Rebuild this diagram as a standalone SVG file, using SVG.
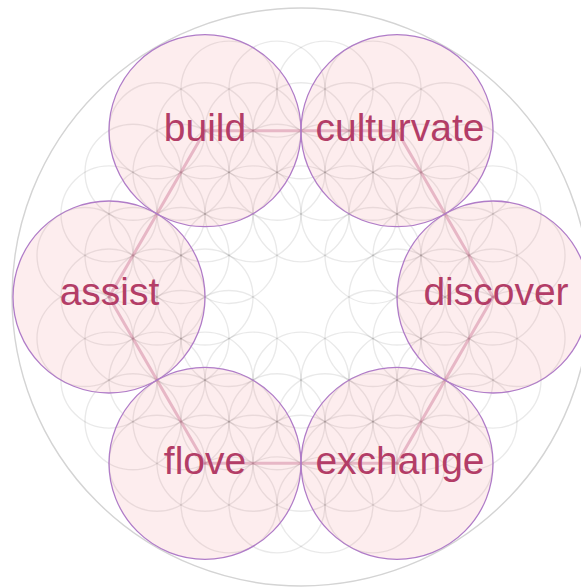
<svg xmlns="http://www.w3.org/2000/svg" width="581" height="588" viewBox="0 0 581 588">
<style>
.bg{fill:#ffffff}
.outer{fill:none;stroke:#d4d4d4;stroke-width:1.4}
.lat circle{fill:none;stroke:#000;stroke-opacity:0.085;stroke-width:1.4}
.con line{stroke:#c46e92;stroke-opacity:0.42;stroke-width:3;stroke-linecap:round}
.node circle{fill:rgb(238,118,126);fill-opacity:0.13;stroke:#b07cc8;stroke-width:1.3}
.node text{font-family:"Liberation Sans",Arial,sans-serif;font-size:39px;fill:#b33d67;text-anchor:middle}
</style>
<rect class="bg" x="0" y="0" width="581" height="588"/>
<circle class="outer" cx="301" cy="297" r="289"/>
<g class="lat" id="lattice">
<circle cx="229" cy="89.15" r="48"/><circle cx="277" cy="89.15" r="48"/><circle cx="325" cy="89.15" r="48"/><circle cx="373" cy="89.15" r="48"/>
<circle cx="157" cy="130.72" r="48"/><circle cx="205" cy="130.72" r="48"/><circle cx="253" cy="130.72" r="48"/><circle cx="301" cy="130.72" r="48"/><circle cx="349" cy="130.72" r="48"/><circle cx="397" cy="130.72" r="48"/><circle cx="445" cy="130.72" r="48"/>
<circle cx="133" cy="172.29" r="48"/><circle cx="181" cy="172.29" r="48"/><circle cx="229" cy="172.29" r="48"/><circle cx="277" cy="172.29" r="48"/><circle cx="325" cy="172.29" r="48"/><circle cx="373" cy="172.29" r="48"/><circle cx="421" cy="172.29" r="48"/><circle cx="469" cy="172.29" r="48"/>
<circle cx="109" cy="213.86" r="48"/><circle cx="157" cy="213.86" r="48"/><circle cx="205" cy="213.86" r="48"/><circle cx="253" cy="213.86" r="48"/><circle cx="301" cy="213.86" r="48"/><circle cx="349" cy="213.86" r="48"/><circle cx="397" cy="213.86" r="48"/><circle cx="445" cy="213.86" r="48"/><circle cx="493" cy="213.86" r="48"/>
<circle cx="85" cy="255.43" r="48"/><circle cx="133" cy="255.43" r="48"/><circle cx="181" cy="255.43" r="48"/><circle cx="229" cy="255.43" r="48"/><circle cx="373" cy="255.43" r="48"/><circle cx="421" cy="255.43" r="48"/><circle cx="469" cy="255.43" r="48"/><circle cx="517" cy="255.43" r="48"/>
<circle cx="109" cy="297" r="48"/><circle cx="157" cy="297" r="48"/><circle cx="205" cy="297" r="48"/><circle cx="397" cy="297" r="48"/><circle cx="445" cy="297" r="48"/><circle cx="493" cy="297" r="48"/>
<circle cx="85" cy="338.57" r="48"/><circle cx="133" cy="338.57" r="48"/><circle cx="181" cy="338.57" r="48"/><circle cx="229" cy="338.57" r="48"/><circle cx="373" cy="338.57" r="48"/><circle cx="421" cy="338.57" r="48"/><circle cx="469" cy="338.57" r="48"/><circle cx="517" cy="338.57" r="48"/>
<circle cx="109" cy="380.14" r="48"/><circle cx="157" cy="380.14" r="48"/><circle cx="205" cy="380.14" r="48"/><circle cx="253" cy="380.14" r="48"/><circle cx="301" cy="380.14" r="48"/><circle cx="349" cy="380.14" r="48"/><circle cx="397" cy="380.14" r="48"/><circle cx="445" cy="380.14" r="48"/><circle cx="493" cy="380.14" r="48"/>
<circle cx="133" cy="421.71" r="48"/><circle cx="181" cy="421.71" r="48"/><circle cx="229" cy="421.71" r="48"/><circle cx="277" cy="421.71" r="48"/><circle cx="325" cy="421.71" r="48"/><circle cx="373" cy="421.71" r="48"/><circle cx="421" cy="421.71" r="48"/><circle cx="469" cy="421.71" r="48"/>
<circle cx="157" cy="463.28" r="48"/><circle cx="205" cy="463.28" r="48"/><circle cx="253" cy="463.28" r="48"/><circle cx="301" cy="463.28" r="48"/><circle cx="349" cy="463.28" r="48"/><circle cx="397" cy="463.28" r="48"/><circle cx="445" cy="463.28" r="48"/>
<circle cx="229" cy="504.85" r="48"/><circle cx="277" cy="504.85" r="48"/><circle cx="325" cy="504.85" r="48"/><circle cx="373" cy="504.85" r="48"/>
</g>
<g class="con" id="connectors">
<line x1="205" y1="130.72" x2="397" y2="130.72"/>
<line x1="397" y1="130.72" x2="493" y2="297"/>
<line x1="493" y1="297" x2="397" y2="463.28"/>
<line x1="397" y1="463.28" x2="205" y2="463.28"/>
<line x1="205" y1="463.28" x2="109" y2="297"/>
<line x1="109" y1="297" x2="205" y2="130.72"/>
</g>
<g class="node" id="node-build"><circle cx="205" cy="130.72" r="96"/><text x="205" y="141">build</text></g>
<g class="node" id="node-culturvate"><circle cx="397" cy="130.72" r="96"/><text x="400" y="141">culturvate</text></g>
<g class="node" id="node-assist"><circle cx="109" cy="297" r="96"/><text x="109.5" y="304.5">assist</text></g>
<g class="node" id="node-discover"><circle cx="493" cy="297" r="96"/><text x="496" y="304.5">discover</text></g>
<g class="node" id="node-flove"><circle cx="205" cy="463.28" r="96"/><text x="205" y="473.5">flove</text></g>
<g class="node" id="node-exchange"><circle cx="397" cy="463.28" r="96"/><text x="400" y="473.5">exchange</text></g>
</svg>
